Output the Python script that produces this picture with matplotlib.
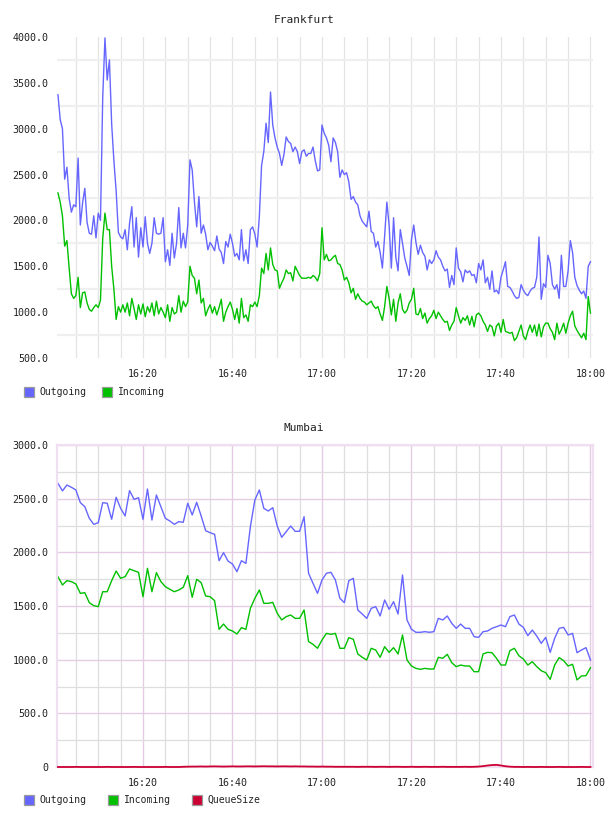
import matplotlib
matplotlib.use("Agg")
import matplotlib.pyplot as plt
import matplotlib.dates as mdates
import matplotlib.ticker as mticker
import matplotlib.patches as mpatches
import pandas as pd

# Frankfurt, 30 s samples from 16:01
FRA_OUT = [
    3370, 3100, 3000, 2450, 2580, 2240, 2090, 2170, 2150, 2680,
    1950, 2190, 2350, 1980, 1860, 1850, 2050, 1810, 2080, 2000,
    3340, 3990, 3530, 3750, 3050, 2650, 2320, 1870, 1820, 1800,
    1900, 1680, 1970, 2150, 1710, 2030, 1600, 1920, 1710, 2040,
    1750, 1640, 1750, 2030, 1860, 1850, 1860, 2030, 1550, 1680,
    1510, 1860, 1590, 1750, 2140, 1700, 1860, 1700, 1950, 2660,
    2550, 2200, 1930, 2260, 1860, 1950, 1850, 1680, 1760, 1720,
    1670, 1830, 1690, 1650, 1530, 1770, 1710, 1850, 1750, 1610,
    1640, 1570, 1900, 1560, 1680, 1530, 1900, 1930, 1850, 1710,
    2040, 2600, 2750, 3060, 2850, 3400, 3040, 2900, 2800, 2730,
    2600, 2720, 2910, 2860, 2840, 2750, 2800, 2750, 2620, 2750,
    2770, 2700, 2730, 2730, 2800, 2650, 2540, 2550, 3040,
    2950, 2900, 2820, 2640, 2900, 2850, 2750, 2470, 2550, 2500,
    2520, 2420, 2230, 2260, 2200, 2170, 2050, 1990, 1960, 1930,
    2100, 1880, 1860, 1710, 1770, 1650, 1480, 1830, 2200, 1950,
    1480, 2030, 1600, 1450, 1900, 1750, 1590, 1500, 1400, 1790,
    1950, 1760, 1630, 1730, 1650, 1610, 1460, 1570, 1530, 1570,
    1670, 1600, 1570, 1500, 1450, 1470, 1270, 1400, 1300,
    1700, 1480, 1440, 1330, 1460, 1430, 1450, 1400, 1410, 1320,
    1530, 1460, 1570, 1320, 1380, 1250, 1450, 1220, 1240, 1200,
    1380, 1460, 1550, 1280, 1270, 1230, 1180, 1150, 1160, 1300,
    1240, 1200, 1180, 1230, 1260, 1270, 1380, 1820, 1140, 1310,
    1270, 1620, 1530, 1300, 1250, 1300, 1150, 1620, 1280, 1280,
    1450, 1780, 1650, 1380, 1290, 1240, 1200, 1230, 1150, 1500,
    1550,
]
FRA_IN = [
    2300, 2200, 2050, 1720, 1780, 1480, 1200, 1150, 1180, 1380,
    1050, 1210, 1220, 1100, 1030, 1010, 1050, 1080, 1050, 1130,
    1800, 2080, 1900, 1900, 1500, 1250, 920, 1060, 1000, 1080,
    1000, 1100, 960, 1150, 1040, 920, 1080, 980, 1090, 950,
    1060, 1000, 1100, 960, 1120, 980, 1050, 1000, 940, 1080,
    900, 1050, 980, 1000, 1180, 1000, 1120, 1060, 1110, 1500,
    1400, 1370, 1200, 1350, 1100, 1150, 960, 1030, 1080, 990,
    1060, 970, 1050, 1140, 900, 1000, 1060, 1110, 1030, 920,
    1040, 880, 1150, 940, 970, 900, 1080, 1060, 1110, 1060,
    1180, 1480, 1420, 1640, 1460, 1700, 1520, 1460, 1450, 1260,
    1320, 1370, 1460, 1420, 1430, 1340, 1500, 1450, 1400, 1370,
    1370, 1370, 1380, 1370, 1400, 1380, 1340, 1420, 1920,
    1570, 1630, 1560, 1570, 1600, 1620, 1530, 1520, 1460, 1350,
    1380, 1320, 1210, 1260, 1140, 1200, 1150, 1120, 1110, 1080,
    1100, 1120, 1070, 1040, 1060, 980, 910, 1060, 1280, 1150,
    970, 1140, 900, 1100, 1200, 1030, 990, 1020, 1100, 1140,
    1260, 980, 970, 1040, 930, 990, 880, 930, 960, 1020,
    930, 1000, 960, 920, 890, 900, 800, 860, 900,
    1050, 960, 880, 940, 910, 960, 860, 955, 840, 970,
    990, 960, 900, 860, 790, 860, 840, 740, 850, 880,
    780, 920, 790, 780, 770, 780, 690, 720, 790, 860,
    740, 700, 790, 860, 780, 860, 740, 870, 730, 840,
    880, 880, 820, 780, 700, 880, 760, 810, 880, 770,
    880, 960, 1010, 850, 800, 760, 720, 770, 700, 1170,
    990,
]

# Mumbai, 1 min samples from 16:01
MUM_OUT = [
    2643, 2572, 2627, 2606, 2581, 2463, 2425, 2317, 2261, 2276,
    2463, 2457, 2308, 2513, 2410, 2339, 2575, 2494, 2509, 2308,
    2590, 2301, 2534, 2425, 2317, 2292, 2261, 2286, 2280, 2457,
    2348, 2466, 2339, 2202, 2183, 2168, 1922, 1997, 1919, 1891,
    1820, 1922, 1897, 2239, 2488, 2581, 2410, 2385, 2416, 2245,
    2140, 2192, 2245, 2196, 2196, 2332, 1805, 1711, 1618, 1742,
    1805, 1814, 1742, 1572, 1531, 1736, 1758, 1463, 1425, 1385,
    1478, 1494, 1407, 1556, 1469, 1540, 1425, 1789, 1370, 1283,
    1255, 1255, 1261, 1255, 1261, 1385, 1370, 1407, 1339, 1292,
    1332, 1292, 1292, 1214, 1208, 1261, 1267, 1292, 1307, 1323,
    1307, 1401, 1416, 1332, 1301, 1224, 1276, 1220, 1152, 1208,
    1068, 1199, 1292, 1301, 1230, 1245, 1065, 1090, 1112, 997,
]
MUM_IN = [
    1773, 1696, 1736, 1727, 1705, 1618, 1624, 1531, 1503, 1494,
    1633, 1633, 1736, 1826, 1758, 1773, 1845, 1829, 1814, 1587,
    1851, 1633, 1811, 1727, 1680, 1656, 1633, 1649, 1674, 1783,
    1581, 1749, 1718, 1593, 1587, 1550, 1283, 1332, 1283, 1267,
    1239, 1298, 1283, 1478, 1572, 1649, 1525, 1525, 1534, 1432,
    1370, 1401, 1416, 1385, 1385, 1463, 1168, 1143, 1106, 1183,
    1245, 1236, 1245, 1106, 1106, 1205, 1190, 1053, 1022, 997,
    1106, 1090, 1022, 1121, 1068, 1112, 1053, 1230, 997, 941,
    919, 910, 919, 913, 913, 1022, 1013, 1050, 972, 935,
    950, 941, 941, 888, 888, 1053, 1068, 1065, 1013, 950,
    950, 1084, 1106, 1037, 1006, 950, 981, 935, 897, 879,
    817, 950, 1019, 991, 941, 957, 811, 848, 851, 925,
]
MUM_QUEUE = [
    0, 0, 0, 0, 1, 0, 0, 0, 0, 0,
    0, 1, 0, 0, 0, 0, 0, 1, 0, 0,
    0, 0, 0, 0, 1, 0, 0, 0, 2, 3,
    4, 4, 5, 4, 5, 6, 5, 4, 5, 6,
    5, 5, 6, 6, 5, 6, 7, 6, 6, 5,
    6, 6, 5, 6, 5, 5, 4, 4, 3, 4,
    3, 3, 2, 2, 2, 2, 2, 1, 2, 2,
    2, 1, 2, 2, 1, 2, 2, 1, 1, 2,
    1, 1, 2, 1, 1, 1, 2, 1, 1, 1,
    1, 2, 1, 2, 4, 8, 14, 18, 20, 14,
    7, 3, 1, 1, 0, 1, 0, 0, 1, 0,
    0, 0, 1, 0, 0, 0, 0, 1, 0, 0,
]

C_OUT = "#6666ff"
C_IN = "#00c000"
C_QUEUE = "#cc0033"
MONO = "DejaVu Sans Mono"

fra_t = pd.date_range("2024-01-01 16:01:00", periods=len(FRA_OUT), freq="30s")
mum_t = pd.date_range("2024-01-01 16:01:00", periods=len(MUM_OUT), freq="1min")
x_lo = pd.Timestamp("2024-01-01 16:00:47")
x_hi = pd.Timestamp("2024-01-01 18:00:34")

W, H = 608, 816
fig = plt.figure(figsize=(W / 100, H / 100), dpi=100, facecolor="white")


def yfmt(v, pos):
    return "0" if abs(v) < 1e-9 else f"{v:.1f}"


def setup_axes(ax, ylo, yhi):
    ax.set_xlim(x_lo, x_hi)
    ax.set_ylim(ylo, yhi)
    ax.xaxis.set_major_locator(mdates.MinuteLocator(byminute=[0, 20, 40]))
    ax.xaxis.set_minor_locator(mdates.MinuteLocator(byminute=range(0, 60, 5)))
    ax.xaxis.set_major_formatter(mdates.DateFormatter("%H:%M"))
    ax.yaxis.set_major_formatter(mticker.FuncFormatter(yfmt))
    ax.tick_params(which="both", length=0)
    ax.tick_params(axis="y", pad=6, labelsize=7.2, labelcolor="#222222")
    ax.tick_params(axis="x", pad=8, labelsize=7.2, labelcolor="#222222")
    for lab in ax.get_xticklabels() + ax.get_yticklabels():
        lab.set_family(MONO)
    ax.set_axisbelow(True)


def legend(items, y_px):
    for x_box, x_txt, color, label in items:
        fig.add_artist(mpatches.Rectangle(
            (x_box / W, 1 - (y_px + 5) / H), 10 / W, 10 / H,
            transform=fig.transFigure, facecolor=color,
            edgecolor="#9a9a9a", linewidth=0.9))
        fig.text(x_txt / W, 1 - y_px / H, label, family=MONO, fontsize=7,
                 color="#222222", va="center", ha="left")


# ---- Frankfurt ----
ax1 = fig.add_axes([57 / W, 1 - 358 / H, 536 / W, 321 / H])
setup_axes(ax1, 500, 4000)
ax1.yaxis.set_major_locator(mticker.MultipleLocator(500))
ax1.yaxis.set_minor_locator(mticker.FixedLocator(list(range(750, 4000, 500))))
for s in ax1.spines.values():
    s.set_visible(False)
ax1.grid(which="both", axis="x", color="#e4e4e4", linewidth=0.9)
ax1.grid(which="minor", axis="y", color="#efefef", linewidth=1.6)
ax1.plot(fra_t, FRA_OUT, color=C_OUT, linewidth=1.0)
ax1.plot(fra_t, FRA_IN, color=C_IN, linewidth=1.0)
fig.text(0.5, 1 - 20 / H, "Frankfurt", family=MONO, fontsize=8,
         color="#222222", ha="center", va="center")
legend([(24, 39, C_OUT, "Outgoing"), (102, 118, C_IN, "Incoming")], 392)

# ---- Mumbai ----
ax2 = fig.add_axes([57 / W, 1 - 767 / H, 536 / W, 322 / H])
setup_axes(ax2, 0, 3000)
ax2.yaxis.set_major_locator(mticker.MultipleLocator(500))
ax2.yaxis.set_minor_locator(mticker.FixedLocator(list(range(250, 3000, 500))))
for s in ax2.spines.values():
    s.set_color("#f0dff0")
    s.set_linewidth(1.6)
ax2.grid(which="minor", axis="both", color="#dedede", linewidth=0.9)
ax2.grid(which="major", axis="both", color="#e4cce4", linewidth=1.0)
ax2.plot(mum_t, MUM_OUT, color=C_OUT, linewidth=1.0)
ax2.plot(mum_t, MUM_IN, color=C_IN, linewidth=1.0)
ax2.plot(mum_t, MUM_QUEUE, color=C_QUEUE, linewidth=1.3, clip_on=False,
         zorder=4)
fig.text(0.5, 1 - 428 / H, "Mumbai", family=MONO, fontsize=8,
         color="#222222", ha="center", va="center")
legend([(24, 39, C_OUT, "Outgoing"), (108, 124, C_IN, "Incoming"),
        (192, 207, C_QUEUE, "QueueSize")], 800)

fig.savefig("out.png", dpi=100, facecolor="white")
